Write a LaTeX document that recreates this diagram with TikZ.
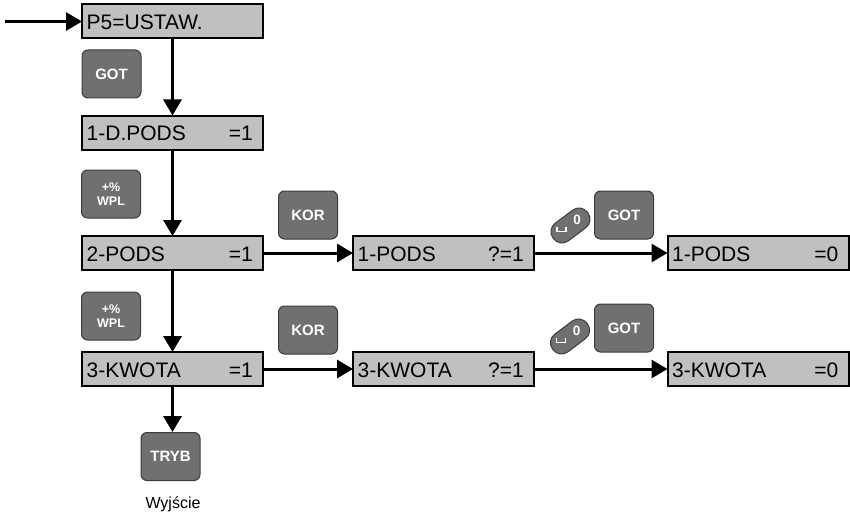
\documentclass[tikz,border=0pt]{standalone}
\usepackage{fontspec}
\setmainfont{Liberation Sans}
\usetikzlibrary{arrows.meta}
\definecolor{boxfill}{HTML}{C0C0C0}
\definecolor{btnfill}{HTML}{707070}
\definecolor{btnedge}{HTML}{3C3C3C}
\tikzset{
  dbox/.style={draw=black, line width=2pt, fill=boxfill, minimum width=181pt, minimum height=34pt, inner sep=0pt, outer sep=0pt},
  btn/.style={draw=btnedge, line width=1pt, fill=btnfill, rounded corners=6pt, minimum width=59pt, minimum height=48pt, inner sep=0pt, text=white, font=\bfseries\fontsize{15}{15}\selectfont, align=center},
  btnsmall/.style={btn, font=\bfseries\fontsize{12.5}{13.5}\selectfont},
  pillkey/.style={draw=btnedge, line width=1pt, fill=btnfill, rounded corners=10.5pt, minimum width=43pt, minimum height=22pt, inner sep=0pt, rotate=37},
  pilltxt/.style={text=white, font=\bfseries\fontsize{13.5}{13.5}\selectfont, inner sep=0pt},
  spc/.style={draw=white, line width=1.3pt},
  arr/.style={line width=3pt, -{Triangle[length=16pt,width=18pt]}},
  ltxt/.style={anchor=base west, font=\fontsize{21}{21}\selectfont, inner sep=0pt},
  rtxt/.style={anchor=base east, font=\fontsize{21}{21}\selectfont, inner sep=0pt},
}
\begin{document}
\begin{tikzpicture}[x=1pt,y=-1pt]
\useasboundingbox (0,0) rectangle (850,516);
% display boxes
\node[dbox] (p5) at (172.5,21.5) {};
\node[dbox] (d1) at (172.5,132.5) {};
\node[dbox] (d2) at (172.5,253) {};
\node[dbox] (d3) at (172.5,369) {};
\node[dbox] (m1) at (443.5,253) {};
\node[dbox] (m2) at (443.5,369) {};
\node[dbox] (r1) at (758,253) {};
\node[dbox] (r2) at (758,369) {};
% box texts
\node[ltxt] (tp5) at ([shift={(4.5,8)}]p5.west) {P5=USTAW.};
\node[ltxt] (td1) at ([shift={(4.5,8)}]d1.west) {1-D.PODS};
\node[rtxt] (vd1) at ([shift={(-10,8)}]d1.east) {=1};
\node[ltxt] (td2) at ([shift={(4.5,8)}]d2.west) {2-PODS};
\node[rtxt] (vd2) at ([shift={(-10,8)}]d2.east) {=1};
\node[ltxt] (td3) at ([shift={(4.5,8)}]d3.west) {3-KWOTA};
\node[rtxt] (vd3) at ([shift={(-10,8)}]d3.east) {=1};
\node[ltxt] (tm1) at ([shift={(4.5,8)}]m1.west) {1-PODS};
\node[rtxt] (vm1) at ([shift={(-10,8)}]m1.east) {?=1};
\node[ltxt] (tm2) at ([shift={(4.5,8)}]m2.west) {3-KWOTA};
\node[rtxt] (vm2) at ([shift={(-10,8)}]m2.east) {?=1};
\node[ltxt] (tr1) at ([shift={(4.5,8)}]r1.west) {1-PODS};
\node[rtxt] (vr1) at ([shift={(-10,8)}]r1.east) {=0};
\node[ltxt] (tr2) at ([shift={(4.5,8)}]r2.west) {3-KWOTA};
\node[rtxt] (vr2) at ([shift={(-10,8)}]r2.east) {=0};
% keys
\node[btn] (got1) at (111.5,74) {GOT};
\node[btnsmall] (wpl1) at (111,194) {+\%\\WPL};
\node[btnsmall] (wpl2) at (111,316) {+\%\\WPL};
\node[btn] (tryb) at (170.5,456.5) {TRYB};
\node[btn] (kor1) at (308,215) {KOR};
\node[btn] (kor2) at (308,330) {KOR};
\node[btn] (got2) at (624,215) {GOT};
\node[btn] (got3) at (624,328) {GOT};
\node[pillkey] (pill1) at (570.5,225.5) {};
\node[pilltxt] (zero1) at ([shift={(6.5,-6)}]pill1.center) {0};
\draw[spc] ([shift={(-13.5,1.5)}]pill1.center) -- ++(0,4.5) -- ++(9,0) -- ++(0,-4.5);
\node[pillkey] (pill2) at (570,336.5) {};
\node[pilltxt] (zero2) at ([shift={(6.5,-6)}]pill2.center) {0};
\draw[spc] ([shift={(-13.5,1.5)}]pill2.center) -- ++(0,4.5) -- ++(9,0) -- ++(0,-4.5);
% exit label
\node[font=\fontsize{16}{16}\selectfont, inner sep=0pt] (exit) at (173,504) {Wyjście};
% connectors
\coordinate (start) at (5,21.5);
\draw[arr] (start) -- (p5.west);
\draw[arr] (p5.south) -- (d1.north);
\draw[arr] (d1.south) -- (d2.north);
\draw[arr] (d2.south) -- (d3.north);
\draw[arr] (d3.south) -- (d3.south |- tryb.north);
\draw[arr] (d2.east) -- (m1.west);
\draw[arr] (m1.east) -- (r1.west);
\draw[arr] (d3.east) -- (m2.west);
\draw[arr] (m2.east) -- (r2.west);
\end{tikzpicture}
\end{document}
